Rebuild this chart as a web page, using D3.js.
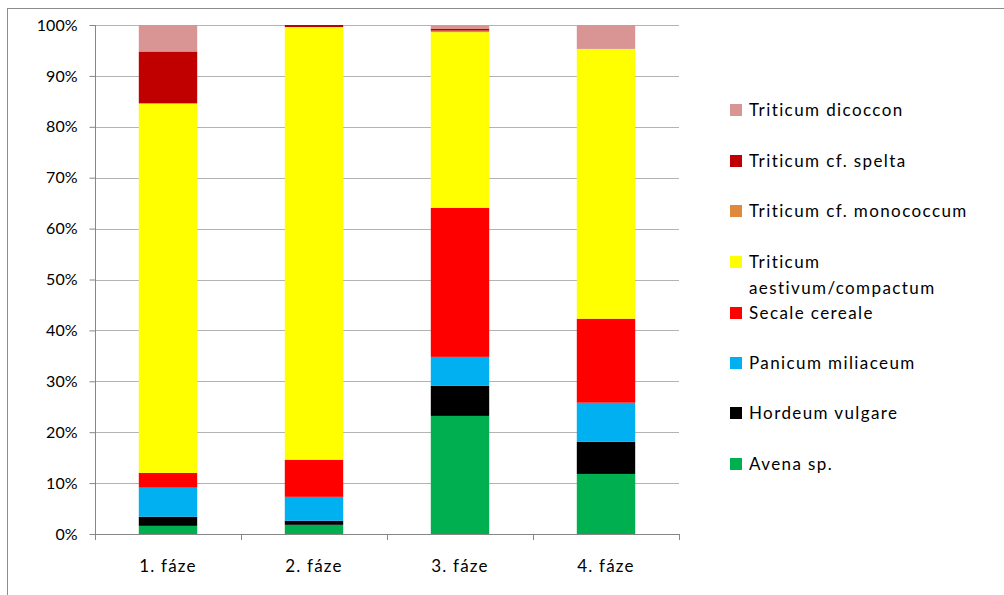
<!DOCTYPE html>
<html>
<head>
<meta charset="utf-8">
<script src="https://cdn.jsdelivr.net/npm/d3@7"></script>
<style>
  body { margin: 0; background: #fff; }
  text { font-family: Lato, "Open Sans", sans-serif; fill: #000; }
  .tick text { font-size: 16px; }
  #x-axis .tick text { font-size: 17px; letter-spacing: 1.2px; }
</style>
</head>
<body>
<div class="canvas"></div>
<script>
// categories and series (percent of each phase)
const phases = ['1. fáze', '2. fáze', '3. fáze', '4. fáze'];
const species = ['Avena sp.', 'Hordeum vulgare', 'Panicum miliaceum', 'Secale cereale',
    'Triticum aestivum/compactum', 'Triticum cf. monococcum', 'Triticum cf. spelta', 'Triticum dicoccon'];
const avena = [1.6, 1.8, 23.2, 11.8];
const hordeum = [1.8, 0.8, 5.9, 6.3];
const panicum = [5.7, 4.7, 5.7, 7.7];
const secale = [2.9, 7.3, 29.3, 16.5];
const aestivum = [72.6, 85.0, 34.5, 53.0];
const monococcum = [0, 0, 0.3, 0];
const spelta = [10.2, 0.4, 0.4, 0];
const dicoccon = [5.2, 0, 0.7, 4.7];
const yTicks = [0, 0.1, 0.2, 0.3, 0.4, 0.5, 0.6, 0.7, 0.8, 0.9, 1];
const colors = ['#00b050', '#000000', '#00b0f0', '#ff0000', '#ffff00', '#e0883c', '#c00000', '#d99594'];

const seriesValues = [avena, hordeum, panicum, secale, aestivum, monococcum, spelta, dicoccon];
const table = phases.map((p, i) => {
    const row = { phase: p };
    species.forEach((s, j) => { row[s] = seriesValues[j][i]; });
    return row;
});

const width = 1004, height = 595;
const plotL = 95, plotR = 679, plotT = 25, plotB = 534;

const svg = d3.select('.canvas')
    .append('svg')
    .attr('width', width)
    .attr('height', height)
    ;

// outer chart frame (runs off the right and bottom edges)
svg.append('rect')
    .attr('x', 7.5)
    .attr('y', 8.5)
    .attr('width', 1100)
    .attr('height', 700)
    .attr('fill', 'none')
    .attr('stroke', '#8c8c8c')
    ;

const xScale = d3.scaleBand()
    .domain(phases)
    .range([plotL, plotR])
    .paddingInner(0.6)
    .paddingOuter(0.3)
    ;

const yScale = d3.scaleLinear()
    .domain([0, 1])
    .range([plotB, plotT])
    ;

// gridlines
svg.append('g')
    .selectAll('line')
    .data(yTicks.slice(1))
    .enter()
    .append('line')
    .attr('x1', plotL)
    .attr('x2', plotR)
    .attr('y1', (d) => Math.round(yScale(d)) + 0.5)
    .attr('y2', (d) => Math.round(yScale(d)) + 0.5)
    .attr('stroke', '#b3b3b3')
    ;

// stacked bars
const stacked = d3.stack()
    .keys(species)
    .offset(d3.stackOffsetExpand)(table);

svg.append('g')
    .selectAll('g')
    .data(stacked)
    .enter()
    .append('g')
    .attr('fill', (d, i) => colors[i])
    .selectAll('rect')
    .data((d) => d)
    .enter()
    .append('rect')
    .attr('x', (d) => xScale(d.data.phase))
    .attr('width', xScale.bandwidth())
    .attr('y', (d) => yScale(d[1]))
    .attr('height', (d) => yScale(d[0]) - yScale(d[1]))
    ;

// y-axis
const yAxis = d3.axisLeft(yScale)
    .tickValues(yTicks)
    .tickFormat(d3.format('.0%'))
    .tickSize(6)
    .tickPadding(12)
    ;
svg.append('g')
    .attr('id', 'y-axis')
    .attr('transform', `translate(${plotL + 0.5}, 0)`)
    .call(yAxis)
    .call(g => g.selectAll('line, path').attr('stroke', '#868686'))
    .call(g => g.select('.domain').attr('d', `M0,${plotT}V${plotB}`))
    ;

// x-axis: ticks sit between categories
const xAxis = d3.axisBottom(xScale).tickSize(0).tickPadding(25);
svg.append('g')
    .attr('id', 'x-axis')
    .attr('transform', `translate(0, ${plotB + 0.5})`)
    .call(xAxis)
    .call(g => g.select('.domain').attr('d', `M${plotL},0H${plotR}`).attr('stroke', '#868686'))
    ;
svg.append('g')
    .selectAll('line')
    .data(d3.range(phases.length + 1))
    .enter()
    .append('line')
    .attr('x1', (d) => Math.round(plotL + d * (plotR - plotL) / phases.length) + 0.5)
    .attr('x2', (d) => Math.round(plotL + d * (plotR - plotL) / phases.length) + 0.5)
    .attr('y1', plotB)
    .attr('y2', plotB + 6)
    .attr('stroke', '#868686')
    ;

// legend (top to bottom in reverse series order)
const legendY = [110, 161, 211, 262, 313, 363, 413, 464];
const legend = svg.append('g').attr('id', 'legend');
species.slice().reverse().forEach((s, i) => {
    const y = legendY[i];
    legend.append('rect')
        .attr('x', 730)
        .attr('y', y - 6)
        .attr('width', 12)
        .attr('height', 12)
        .attr('fill', colors[species.length - 1 - i]);
    const t = legend.append('text')
        .attr('x', 749)
        .attr('y', y)
        .attr('dy', '0.35em')
        .style('font-size', '17px')
        .style('letter-spacing', '1.4px');
    if (s === 'Triticum aestivum/compactum') {
        t.append('tspan').attr('x', 749).text('Triticum');
        t.append('tspan').attr('x', 749).attr('dy', 26).text('aestivum/compactum');
    } else {
        t.text(s);
    }
});
</script>
</body>
</html>
